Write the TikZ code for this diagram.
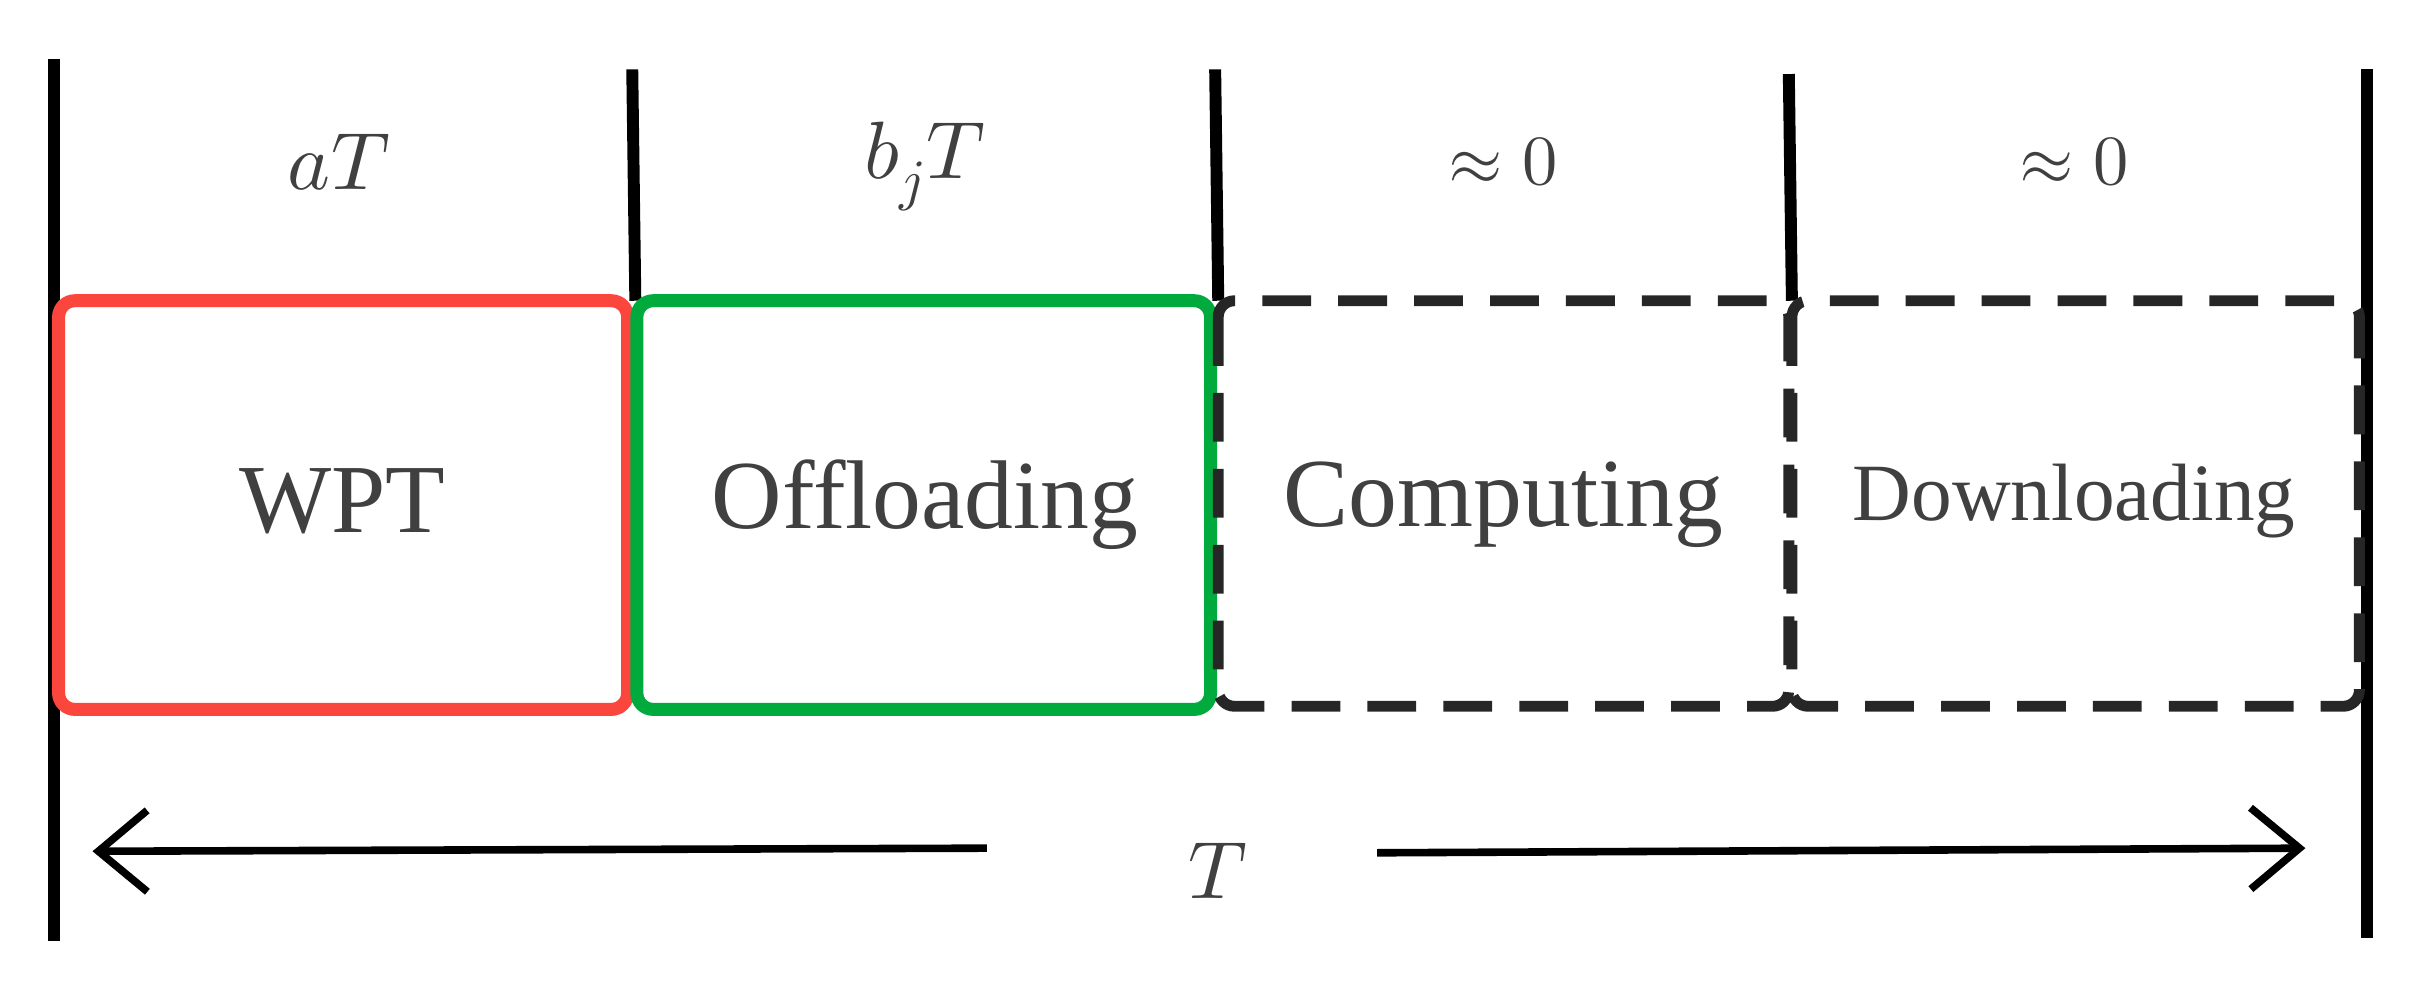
\documentclass[tikz,border=0pt]{standalone}
\usetikzlibrary{arrows.meta}
\usepackage{fontspec}
\setmainfont{Liberation Serif}
\usepackage{unicode-math}
\setmathfont{Latin Modern Math}
\definecolor{myred}{RGB}{250,70,60}
\definecolor{mygreen}{RGB}{0,170,60}
\begin{document}
\begin{tikzpicture}[x=0.01cm,y=-0.01cm,
  vline/.style={line width=2.2pt},
  seg/.style={line width=2.4pt,rounded corners=3pt},
  lab/.style={text=black!75},
  top/.style={font=\fontsize{15}{18}\selectfont,text=black!75}]
\useasboundingbox (0,0) rectangle (1568,638);
\draw[vline] (35,38) -- (35,610);
\draw[vline] (410,45) -- (412,195);
\draw[vline] (788,45) -- (790,195);
\draw[vline] (1160,48) -- (1162,195);
\draw[vline] (1535,45) -- (1535,608);
\draw[seg,myred] (38,195) rectangle (407,460);
\draw[seg,mygreen] (413,195) rectangle (785,460);
\draw[seg,black!85,dash pattern=on 9pt off 5pt,line width=2pt] (790,195) rectangle (1160,458);
\draw[seg,black!85,dash pattern=on 9pt off 5pt,line width=2pt] (1162,195) rectangle (1530,458);
\node[top] (l1) at (220,105) {$aT$};
\node[top] (l2) at (600,108) {$b_jT$};
\node[top,font=\fontsize{13}{16}\selectfont] (l3) at (975,105) {$\approx 0$};
\node[top,font=\fontsize{13}{16}\selectfont] (l4) at (1345,105) {$\approx 0$};
\node[lab,font=\fontsize{18}{22}\selectfont] (w) at (222,325) {WPT};
\node[lab,font=\fontsize{18}{22}\selectfont] (o) at (600,327) {Offloading};
\node[lab,font=\fontsize{18}{22}\selectfont] (c) at (975,327) {Computing};
\node[lab,font=\fontsize{15}{18}\selectfont] (d) at (1345,325) {Downloading};
\node[top] (t) at (790,565) {$T$};
\coordinate (a1) at (640,550);
\coordinate (a2) at (60,552);
\coordinate (b1) at (893,553);
\coordinate (b2) at (1495,550);
\draw[line width=1.4pt,-{Straight Barb[length=9pt,width=15pt]}] (a1) -- (a2);
\draw[line width=1.4pt,-{Straight Barb[length=9pt,width=15pt]}] (b1) -- (b2);
\end{tikzpicture}
\end{document}
